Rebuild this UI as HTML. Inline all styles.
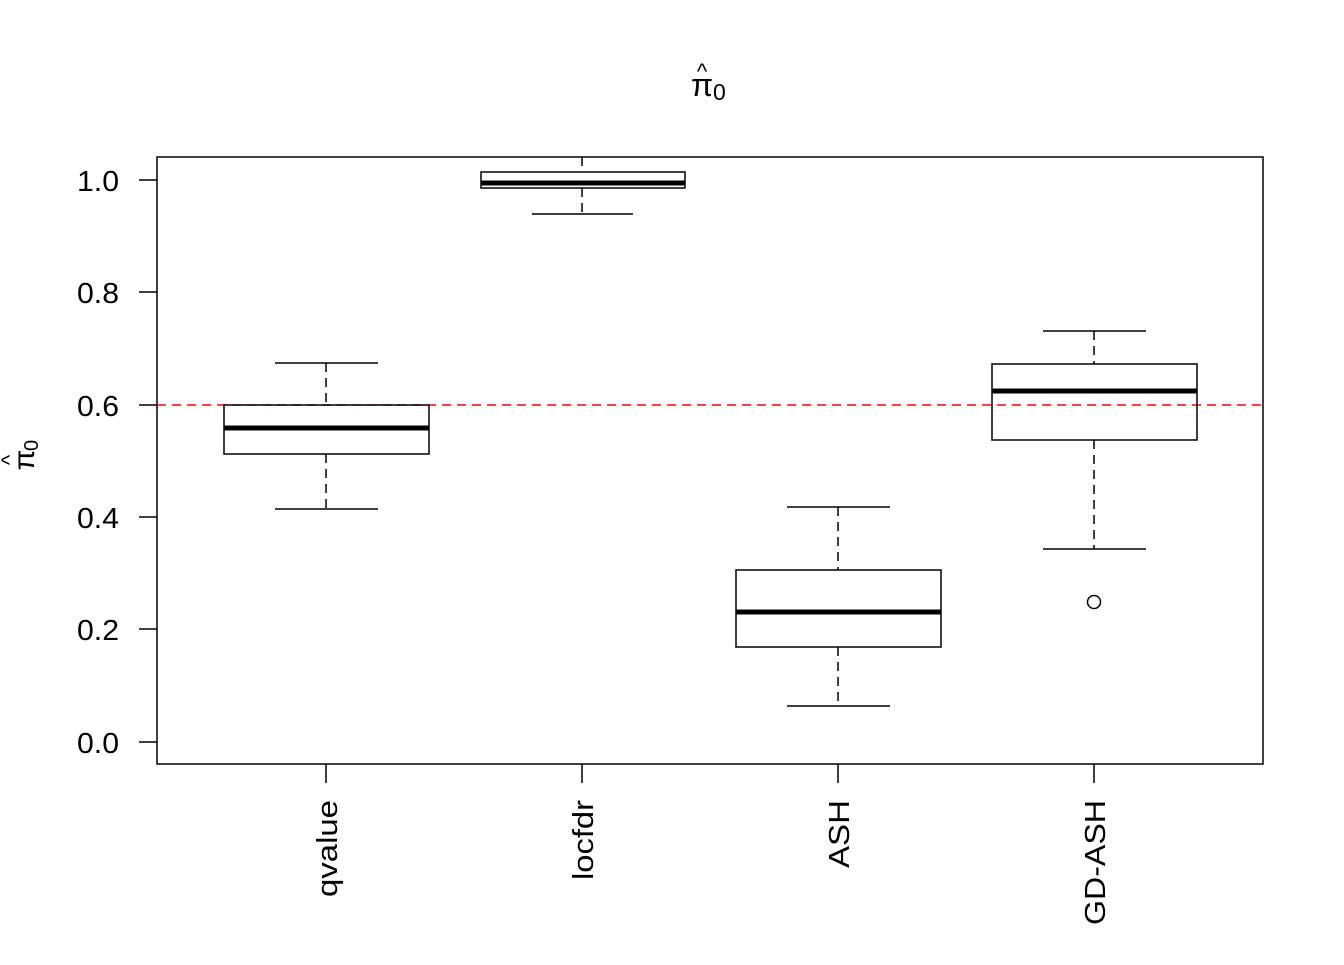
<!DOCTYPE html>
<html><head><style>body{margin:0;background:#fff}</style></head><body>
<svg width="1344" height="960" xmlns="http://www.w3.org/2000/svg" font-family="Liberation Sans, Arial, sans-serif">
<rect width="1344" height="960" fill="#fff"/>
<!-- title -->
<text x="691" y="96" font-size="32">π</text>
<text x="713" y="100" font-size="23">0</text>
<text x="702" y="79" font-size="22" text-anchor="middle">^</text>
<!-- y label -->
<g transform="translate(34,460) rotate(-90)">
<text x="0" y="0" font-size="30" text-anchor="middle">π</text>
<text x="9" y="4" font-size="20">0</text>
<text x="0" y="-17" font-size="22" text-anchor="middle">^</text>
</g>
<rect x="157" y="157" width="1106" height="607" fill="none" stroke="#000" stroke-width="1.5"/>
<g stroke="#000" stroke-width="1.5">
<line x1="139" y1="180" x2="157" y2="180"/><line x1="139" y1="292" x2="157" y2="292"/>
<line x1="139" y1="405" x2="157" y2="405"/><line x1="139" y1="517" x2="157" y2="517"/>
<line x1="139" y1="629" x2="157" y2="629"/><line x1="139" y1="742" x2="157" y2="742"/>
<line x1="326" y1="764" x2="326" y2="783"/><line x1="582" y1="764" x2="582" y2="783"/>
<line x1="838" y1="764" x2="838" y2="783"/><line x1="1094" y1="764" x2="1094" y2="783"/>
</g>
<g font-size="29" text-anchor="end">
<text x="119" y="191" textLength="42" lengthAdjust="spacingAndGlyphs">1.0</text><text x="119" y="303" textLength="42" lengthAdjust="spacingAndGlyphs">0.8</text><text x="119" y="416" textLength="42" lengthAdjust="spacingAndGlyphs">0.6</text>
<text x="119" y="528" textLength="42" lengthAdjust="spacingAndGlyphs">0.4</text><text x="119" y="640" textLength="42" lengthAdjust="spacingAndGlyphs">0.2</text><text x="119" y="753" textLength="42" lengthAdjust="spacingAndGlyphs">0.0</text>
</g>
<g font-size="29" text-anchor="end">
<text transform="translate(337,800) rotate(-90)" textLength="97" lengthAdjust="spacingAndGlyphs">qvalue</text>
<text transform="translate(593,800) rotate(-90)" textLength="80" lengthAdjust="spacingAndGlyphs">locfdr</text>
<text transform="translate(849,800) rotate(-90)" textLength="68" lengthAdjust="spacingAndGlyphs">ASH</text>
<text transform="translate(1105,800) rotate(-90)" textLength="125" lengthAdjust="spacingAndGlyphs">GD-ASH</text>
</g>
<line x1="157" y1="405" x2="1263" y2="405" stroke="#f00" stroke-width="1.5" stroke-dasharray="9,6"/>
<g stroke="#000" stroke-width="1.5" fill="none">
<line x1="326" y1="363" x2="326" y2="405" stroke-dasharray="9,6"/><line x1="326" y1="454" x2="326" y2="509" stroke-dasharray="9,6"/>
<line x1="275" y1="363" x2="378" y2="363"/><line x1="275" y1="509" x2="378" y2="509"/>
<rect x="224" y="405" width="205" height="49"/><line x1="224" y1="428" x2="429" y2="428" stroke-width="5"/>
<line x1="582" y1="157" x2="582" y2="172" stroke-dasharray="9,6"/><line x1="582" y1="188" x2="582" y2="214" stroke-dasharray="9,6"/>
<line x1="532" y1="214" x2="633" y2="214"/>
<rect x="481" y="172" width="204" height="16"/><line x1="481" y1="183" x2="685" y2="183" stroke-width="5"/>
<line x1="838" y1="507" x2="838" y2="570" stroke-dasharray="9,6"/><line x1="838" y1="647" x2="838" y2="706" stroke-dasharray="9,6"/>
<line x1="787" y1="507" x2="890" y2="507"/><line x1="787" y1="706" x2="890" y2="706"/>
<rect x="736" y="570" width="205" height="77"/><line x1="736" y1="612" x2="941" y2="612" stroke-width="5"/>
<line x1="1094" y1="331" x2="1094" y2="364" stroke-dasharray="9,6"/><line x1="1094" y1="440" x2="1094" y2="549" stroke-dasharray="9,6"/>
<line x1="1043" y1="331" x2="1146" y2="331"/><line x1="1043" y1="549" x2="1146" y2="549"/>
<rect x="992" y="364" width="205" height="76"/><line x1="992" y1="391" x2="1197" y2="391" stroke-width="5"/>
<circle cx="1094" cy="602" r="6.5"/>
</g>
</svg>
</body></html>
